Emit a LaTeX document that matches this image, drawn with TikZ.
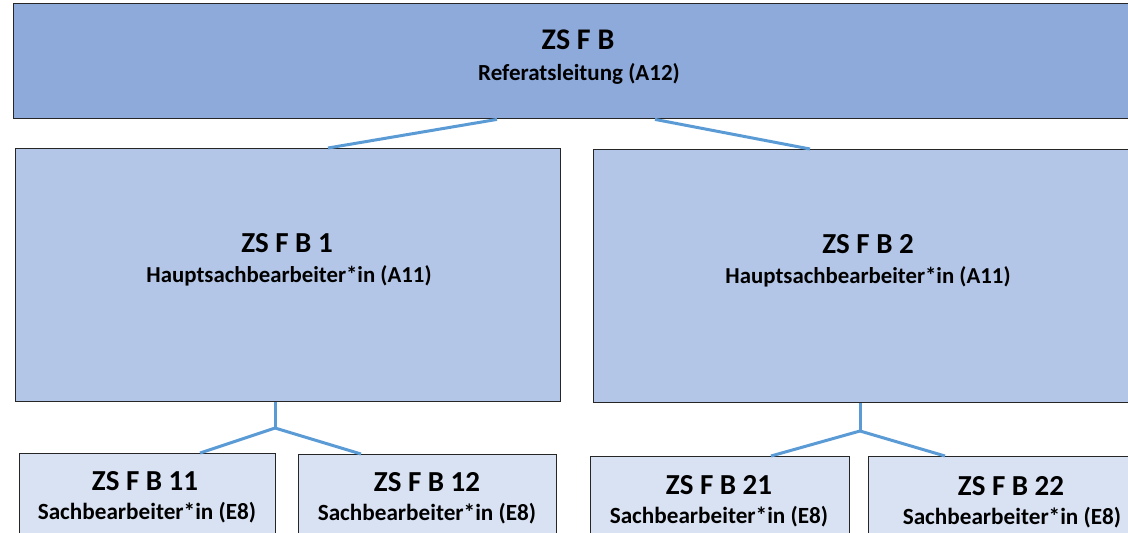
\documentclass[tikz,border=0pt]{standalone}
\usepackage{fontspec}
\setmainfont{Carlito}
\definecolor{topfill}{HTML}{8EAADB}
\definecolor{midfill}{HTML}{B4C6E7}
\definecolor{lowfill}{HTML}{D9E2F3}
\definecolor{conn}{HTML}{5B9BD5}
\definecolor{edge}{HTML}{262626}
\begin{document}
\begin{tikzpicture}[x=1pt,y=-1pt,
  box/.style={draw=edge,line width=1.4pt,inner sep=0pt},
  title/.style={anchor=base,font=\bfseries\fontsize{30}{32}\selectfont,inner sep=0pt},
  sub/.style={anchor=base,font=\bfseries\fontsize{23}{25}\selectfont,inner sep=0pt},
  mtitle/.style={anchor=base,font=\bfseries\fontsize{29}{31}\selectfont,inner sep=0pt},
  msub/.style={anchor=base,font=\bfseries\fontsize{22.8}{24}\selectfont,inner sep=0pt},
  ctitle/.style={anchor=base,font=\bfseries\fontsize{29}{31}\selectfont,inner sep=0pt},
  csub/.style={anchor=base,font=\bfseries\fontsize{23.2}{25}\selectfont,inner sep=0pt},
  link/.style={draw=conn,line width=3pt}]
\useasboundingbox (0,0) rectangle (1128,533);
\fill[white] (0,0) rectangle (1128,533);
% boxes
\node[box,fill=topfill,minimum width=1128pt,minimum height=115pt,anchor=north west] (top) at (13,3) {};
\node[box,fill=midfill,minimum width=545pt,minimum height=253pt,anchor=north west] (b1) at (15,148) {};
\node[box,fill=midfill,minimum width=550pt,minimum height=253pt,anchor=north west] (b2) at (593,149) {};
\node[box,fill=lowfill,minimum width=256pt,minimum height=95pt,anchor=north west] (b11) at (19,453) {};
\node[box,fill=lowfill,minimum width=258pt,minimum height=95pt,anchor=north west] (b12) at (298,454) {};
\node[box,fill=lowfill,minimum width=259pt,minimum height=95pt,anchor=north west] (b21) at (590,456) {};
\node[box,fill=lowfill,minimum width=286pt,minimum height=95pt,anchor=north west] (b22) at (868,456) {};
% texts
\node[title] (t0) at (578,49) {ZS F B};
\node[sub] (s0) at (579,80) {Referatsleitung (A12)};
\node[mtitle] (t1) at (287,252) {ZS F B 1};
\node[msub] (s1) at (289,282) {Hauptsachbearbeiter*in (A11)};
\node[mtitle] (t2) at (868,253) {ZS F B 2};
\node[msub] (s2) at (868,283) {Hauptsachbearbeiter*in (A11)};
\node[ctitle] (t11) at (145,490) {ZS F B 11};
\node[csub] (s11) at (147,519) {Sachbearbeiter*in (E8)};
\node[ctitle] (t12) at (427,491) {ZS F B 12};
\node[csub] (s12) at (427,520) {Sachbearbeiter*in (E8)};
\node[ctitle] (t21) at (719,494) {ZS F B 21};
\node[csub] (s21) at (719,523) {Sachbearbeiter*in (E8)};
\node[ctitle] (t22) at (1011,495) {ZS F B 22};
\node[csub] (s22) at (1012,524) {Sachbearbeiter*in (E8)};
% connector points
\coordinate (j1) at (275,428);
\coordinate (j2) at (860,431);
\draw[link] (top.south -| 497,0) -- (b1.north -| 328,0);
\draw[link] (top.south -| 655,0) -- (b2.north -| 810,0);
\draw[link] (b1.south -| j1) -- (j1);
\draw[link] (j1) -- (b11.north -| 200,0);
\draw[link] (j1) -- (b12.north -| 361,0);
\draw[link] (b2.south -| j2) -- (j2);
\draw[link] (j2) -- (b21.north -| 771,0);
\draw[link] (j2) -- (b22.north -| 945,0);
\end{tikzpicture}
\end{document}
